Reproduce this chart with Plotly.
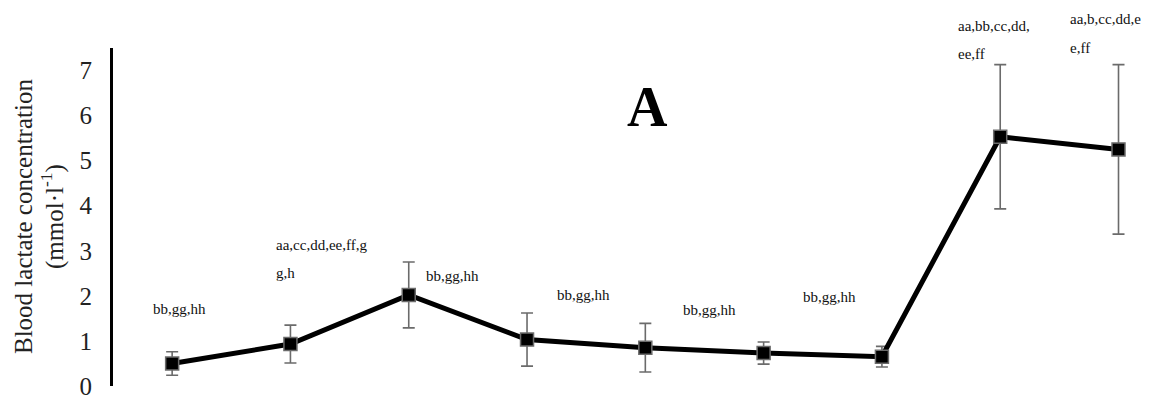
import plotly.graph_objects as go

# ---- data ----
stages = ["S1", "S2", "S3", "S4", "S5", "S6", "S7", "S8", "S9"]
lactate_mean = [0.50, 0.93, 2.02, 1.03, 0.85, 0.73, 0.65, 5.53, 5.25]
lactate_sd = [0.26, 0.42, 0.73, 0.59, 0.54, 0.245, 0.23, 1.60, 1.88]

# significance labels (text lines), with anchor positions in data units
sig_text = ["bb,gg,hh", "aa,cc,dd,ee,ff,g", "g,h", "bb,gg,hh", "bb,gg,hh",
            "bb,gg,hh", "bb,gg,hh", "aa,bb,cc,dd,", "ee,ff", "aa,b,cc,dd,e", "e,ff"]
sig_x = [-0.18, 0.86, 0.86, 2.13, 3.24, 4.30, 5.32, 6.63, 6.63, 7.57, 7.57]
sig_y = [1.71, 3.13, 2.50, 2.44, 2.02, 1.69, 1.98, 7.98, 7.36, 8.15, 7.49]

y_ticks = [0, 1, 2, 3, 4, 5, 6, 7]

SERIF = "Liberation Serif, Times New Roman, serif"
Y_MAX = 7.5
x_idx = list(range(len(stages)))

fig = go.Figure()
fig.add_trace(go.Scatter(
    x=x_idx, y=lactate_mean,
    mode="lines+markers",
    line=dict(color="black", width=5),
    marker=dict(symbol="square", size=13, color="black",
                line=dict(color="#6b6b6b", width=1.5)),
    error_y=dict(type="data", array=lactate_sd, visible=True,
                 color="#6b6b6b", thickness=1.6, width=6),
    cliponaxis=False,
    showlegend=False,
))

anns = []
for t, xx, yy in zip(sig_text, sig_x, sig_y):
    anns.append(dict(x=xx, y=yy / Y_MAX, xref="x", yref="paper", text=t, showarrow=False,
                     xanchor="left", yanchor="middle",
                     font=dict(family=SERIF, size=15, color="#111111")))

anns.append(dict(x=4.02, y=6.2, xref="x", yref="y", text="<b>A</b>", showarrow=False,
                 xanchor="center", yanchor="middle",
                 font=dict(family=SERIF, size=56, color="black")))

# y-axis title, two lines
anns.append(dict(x=0, y=0.5, xref="paper", yref="paper", xshift=-90,
                 text="Blood lactate concentration", showarrow=False, textangle=-90,
                 xanchor="center", yanchor="middle",
                 font=dict(family=SERIF, size=25, color="#222222")))
anns.append(dict(x=0, y=0.5, xref="paper", yref="paper", xshift=-61,
                 text="(mmol·l<sup>-1</sup>)", showarrow=False, textangle=-90,
                 xanchor="center", yanchor="middle",
                 font=dict(family=SERIF, size=25, color="#222222")))

# the page body adds an 8px margin, so the figure is 8px smaller than the window
fig.update_layout(
    width=1146, height=388,
    margin=dict(l=105, r=0, t=40, b=10, autoexpand=False),
    paper_bgcolor="white", plot_bgcolor="white",
    annotations=anns,
    xaxis=dict(range=[-0.5, 8.3], showline=False, showgrid=False, zeroline=False,
               showticklabels=False, ticks="", fixedrange=True),
    yaxis=dict(range=[0, Y_MAX], tickvals=y_ticks, ticktext=[str(v) for v in y_ticks],
               showline=True, linecolor="black", linewidth=3,
               showgrid=False, zeroline=False, ticks="", ticklabelstandoff=13,
               ticklabeloverflow="allow",
               tickfont=dict(family=SERIF, size=25, color="#222222")),
)

fig.write_html("out.html")
